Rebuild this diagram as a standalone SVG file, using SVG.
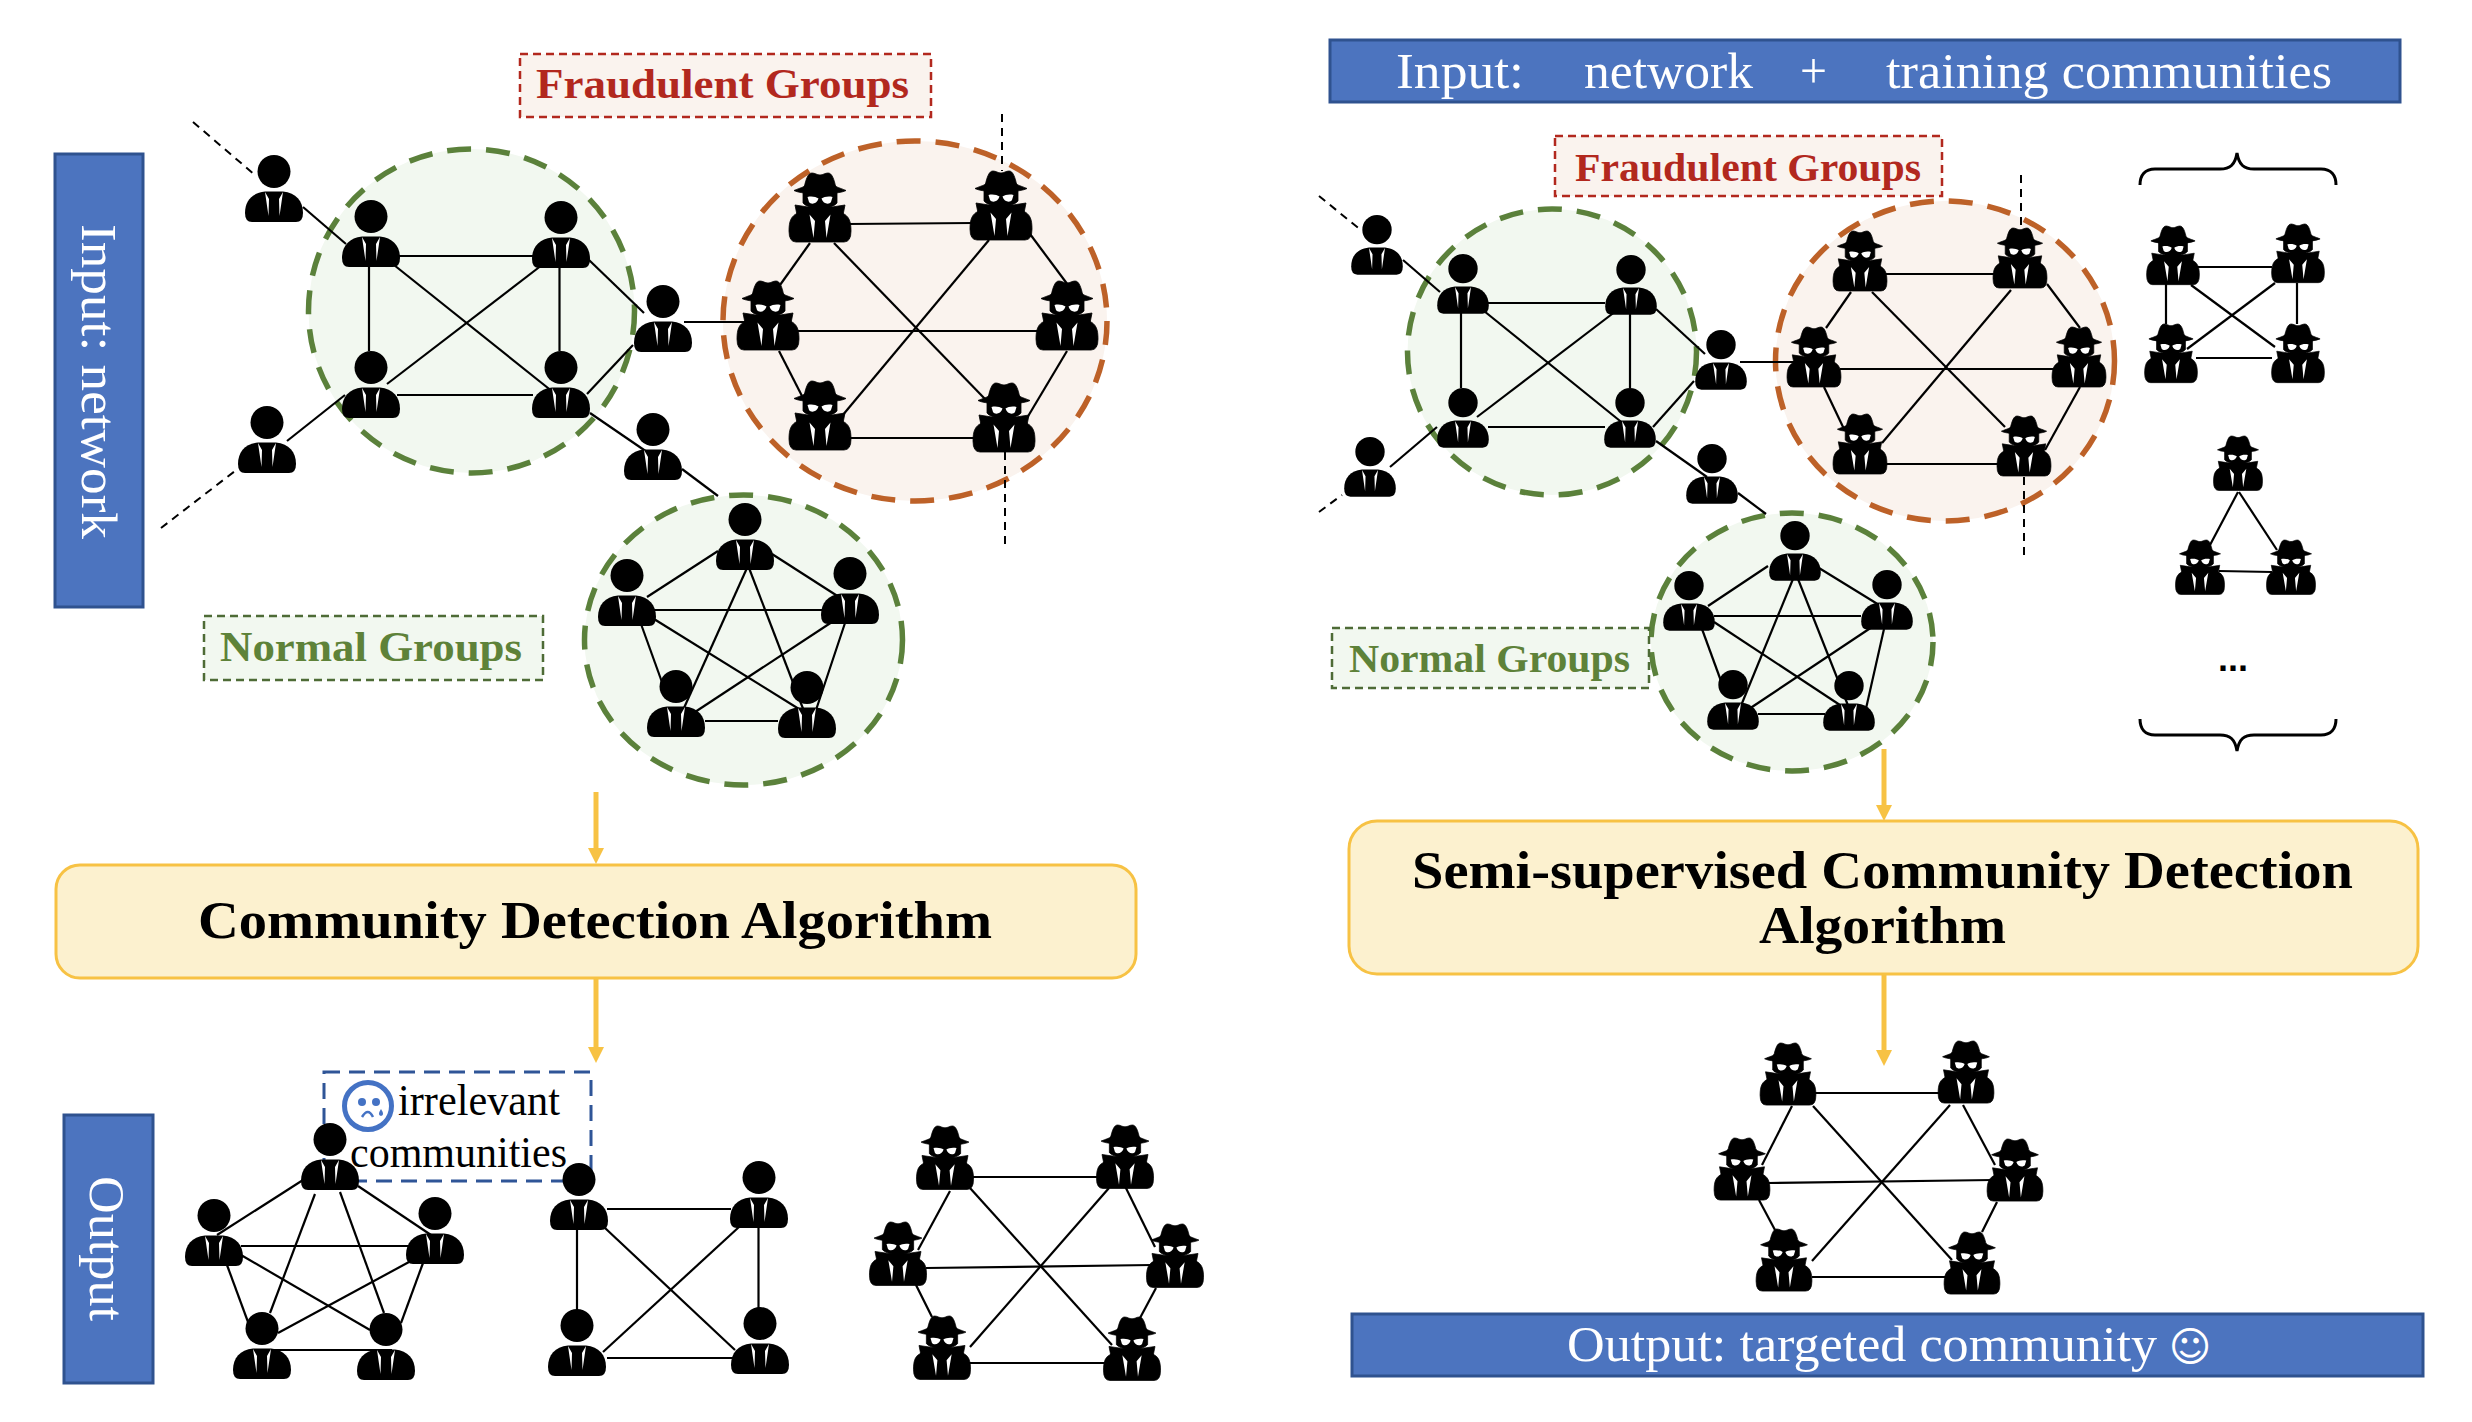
<svg xmlns="http://www.w3.org/2000/svg" xmlns:xlink="http://www.w3.org/1999/xlink" width="2472" height="1422" viewBox="0 0 2472 1422">
<style>
.bar{fill:#4c74bf;stroke:#2f528f;stroke-width:3}
.t{font-family:"Liberation Serif","Times New Roman",serif}
.w{fill:#fff;font-size:50px}
.b{font-weight:bold}
.g{fill:#5e8239}
.r{fill:#b2281e}
.ge{fill:#f2f8f0;stroke:#5b813b;stroke-width:5.5;stroke-dasharray:24 15}
.re{fill:#faf3ee;stroke:#bd6128;stroke-width:5.5;stroke-dasharray:24 15}
.gb{fill:#f2f8f0;stroke:#4e6b36;stroke-width:2.5;stroke-dasharray:8 5}
.rb{fill:#faf3ee;stroke:#b2281e;stroke-width:2.5;stroke-dasharray:8 5}
.algo{fill:#fcf1cf;stroke:#f7c244;stroke-width:3}
.e line{stroke:#000;stroke-width:2.2}
.d line{stroke:#000;stroke-width:2;stroke-dasharray:8 6}
.arrow{stroke:#f7c244;stroke-width:5;fill:none;marker-end:url(#ah)}
.brace{fill:none;stroke:#000;stroke-width:3}
.k{fill:#000;stroke:#000;stroke-width:.8}
</style>
<defs>
<marker id="ah" markerUnits="userSpaceOnUse" markerWidth="16" markerHeight="16" refX="0" refY="8" orient="auto" viewBox="0 0 16 16"><path d="M0 0L16 8L0 16Z" fill="#f7c244"/></marker>
<g id="person">
<circle cx="0" cy="16.5" r="16.5" fill="#000"/>
<path d="M-29 58C-29 46-22 38-9 36.5L9 36.5C22 38 29 46 29 58Q29 67 22 67L-22 67Q-29 67-29 58Z" fill="#000"/>
<path d="M-9 37L-5 44L-5.5 61ZM9 37L5 44L5.5 61Z" fill="#fff"/>
</g>
<g id="spy">
<path class="k" d="M-16 15C-14 6-12 0-8 0C-5 0-3 2 0 2C3 2 5 0 8 0C12 0 14 6 16 15Z"/>
<path class="k" d="M-26 17.5C-20 15-16 14-16 13L16 13C16 14 20 15 26 17.5C18 22-18 22-26 17.5Z"/>
<path class="k" d="M-17 19L17 19L17 30C12 37-12 37-17 30Z"/>
<path d="M-12.5 24C-8 23-4 24-1.5 25.5C-3 31-9 32-11 29ZM12.5 24C8 23 4 24 1.5 25.5C3 31 9 32 11 29Z" fill="#fff"/>
<path class="k" d="M-25 32L-12 34L12 34L25 32L23 42L-23 42Z"/>
<path class="k" d="M-22 40C-29 43-31 48-31 58Q-31 69-24 69L24 69Q31 69 31 58C31 48 29 43 22 40Z"/>
<path d="M-10.5 41.5L-5 48L-6.5 65ZM10.5 41.5L5 48L6.5 65Z" fill="#fff"/>
</g>
</defs>
<rect width="2472" height="1422" fill="#fff"/>

<g id="panels">
<rect class="bar" x="55" y="154" width="88" height="453"/>
<text class="t w" transform="translate(82,224) rotate(90)" textLength="315" lengthAdjust="spacingAndGlyphs">Input: network</text>
<rect class="bar" x="64" y="1115" width="89" height="268"/>
<text class="t w" transform="translate(90,1176) rotate(90)" textLength="145" lengthAdjust="spacingAndGlyphs">Output</text>
<rect class="bar" x="1330" y="40" width="1070" height="62"/>
<text class="t w" x="1396" y="88" textLength="128" lengthAdjust="spacingAndGlyphs">Input:</text>
<text class="t w" x="1584" y="88" textLength="169" lengthAdjust="spacingAndGlyphs">network</text>
<text class="t w" x="1800" y="88" textLength="27" lengthAdjust="spacingAndGlyphs">+</text>
<text class="t w" x="1886" y="88" textLength="446" lengthAdjust="spacingAndGlyphs">training communities</text>
<rect class="bar" x="1352" y="1314" width="1071" height="62"/>
<text class="t w" x="1567" y="1361" textLength="590" lengthAdjust="spacingAndGlyphs">Output: targeted community</text>
<text x="2190" y="1361" text-anchor="middle" fill="#fff" font-size="41" font-family="'DejaVu Sans',sans-serif">☺</text>
</g>

<g id="groups">
<ellipse class="ge" cx="471.5" cy="311" rx="163" ry="162"/>
<ellipse class="re" cx="915" cy="321" rx="192" ry="180"/>
<ellipse class="ge" cx="743.5" cy="640" rx="159" ry="145"/>
<ellipse class="ge" cx="1552" cy="352" rx="144.5" ry="143"/>
<ellipse class="re" cx="1945" cy="361" rx="169.5" ry="160"/>
<ellipse class="ge" cx="1792" cy="642" rx="141" ry="129"/>
</g>

<g id="labels">
<rect class="rb" x="520" y="54" width="411" height="63"/>
<text class="t b r" x="536" y="98" font-size="42" textLength="373" lengthAdjust="spacingAndGlyphs">Fraudulent Groups</text>
<rect class="gb" x="204" y="616" width="339" height="64"/>
<text class="t b g" x="220" y="661" font-size="42" textLength="302" lengthAdjust="spacingAndGlyphs">Normal Groups</text>
<rect class="rb" x="1555" y="136" width="387" height="60"/>
<text class="t b r" x="1575" y="181" font-size="40" textLength="346" lengthAdjust="spacingAndGlyphs">Fraudulent Groups</text>
<rect class="gb" x="1332" y="628" width="317" height="60"/>
<text class="t b g" x="1349" y="672" font-size="40" textLength="281" lengthAdjust="spacingAndGlyphs">Normal Groups</text>
<text x="2233" y="671" text-anchor="middle" font-family="'Liberation Sans',sans-serif" font-weight="bold" font-size="36" fill="#000">...</text>
<path class="brace" d="M2140 185C2140 175 2145 169 2155 169L2220 169C2230 169 2235 165 2237 153C2239 165 2244 169 2254 169L2321 169C2331 169 2336 175 2336 185"/>
<path class="brace" d="M2140 719C2140 729 2145 735 2155 735L2220 735C2230 735 2235 739 2237 751C2239 739 2244 735 2254 735L2321 735C2331 735 2336 729 2336 719"/>
<rect x="324" y="1072" width="267" height="109" fill="none" stroke="#2f5597" stroke-width="3" stroke-dasharray="16 9"/>
<g id="sad-face" transform="translate(368,1106)">
<circle r="23.5" fill="#fff" stroke="#4472c4" stroke-width="5"/>
<circle cx="-6" cy="-4" r="4" fill="#4472c4"/><circle cx="8" cy="-4" r="4" fill="#4472c4"/>
<path d="M-6 11Q0 1 5 11" fill="none" stroke="#4472c4" stroke-width="2.5"/>
<path d="M13 3Q17 9 13 10Q9 9 13 3Z" fill="#4472c4"/>
</g>
<text class="t" x="398" y="1115" font-size="45" textLength="162" lengthAdjust="spacingAndGlyphs">irrelevant</text>
<text class="t" x="350" y="1167" font-size="45" textLength="217" lengthAdjust="spacingAndGlyphs">communities</text>
</g>

<g id="algorithms">
<rect class="algo" x="56" y="865" width="1080" height="113" rx="24"/>
<text class="t b" x="198" y="938" font-size="52" textLength="794" lengthAdjust="spacingAndGlyphs">Community Detection Algorithm</text>
<rect class="algo" x="1349" y="821" width="1069" height="153" rx="28"/>
<text class="t b" x="1412" y="888" font-size="52" textLength="941" lengthAdjust="spacingAndGlyphs">Semi-supervised Community Detection</text>
<text class="t b" x="1759" y="943" font-size="52" textLength="247" lengthAdjust="spacingAndGlyphs">Algorithm</text>
</g>

<g id="connectors">
<g class="d">
<line x1="193" y1="122" x2="255" y2="175"/><line x1="161" y1="528" x2="235" y2="471"/>
<line x1="1002" y1="114" x2="1002" y2="171"/><line x1="1005" y1="452" x2="1005" y2="548"/>
<line x1="1319" y1="196" x2="1362" y2="231"/><line x1="1319" y1="512" x2="1342" y2="495"/>
<line x1="2021" y1="175" x2="2021" y2="229"/><line x1="2024" y1="477" x2="2024" y2="561"/>
</g>
<g class="e">
<line x1="303" y1="207" x2="346" y2="244"/><line x1="287" y1="441" x2="345" y2="395"/>
<line x1="399" y1="256" x2="533" y2="256"/><line x1="397" y1="395" x2="533" y2="395"/>
<line x1="369" y1="266" x2="369" y2="351"/><line x1="559.5" y1="266" x2="559.5" y2="351"/>
<line x1="394" y1="265" x2="558" y2="396"/><line x1="542" y1="265" x2="387" y2="384"/>
<line x1="589" y1="260" x2="644" y2="313"/><line x1="587" y1="394" x2="633" y2="345"/>
<line x1="684" y1="322" x2="746" y2="322"/><line x1="590" y1="413" x2="647" y2="452"/>
<line x1="682" y1="469" x2="718" y2="496"/>
<line x1="848" y1="224" x2="973" y2="223"/><line x1="797" y1="331" x2="1040" y2="331"/>
<line x1="848" y1="438" x2="976" y2="438"/><line x1="810" y1="243" x2="780" y2="285"/>
<line x1="779" y1="351" x2="802" y2="396"/><line x1="1030" y1="234" x2="1068" y2="285"/>
<line x1="1067" y1="351" x2="1027" y2="418"/><line x1="834" y1="243" x2="985" y2="399"/>
<line x1="989" y1="240" x2="842" y2="416"/>
<line x1="718" y1="551" x2="647" y2="597"/><line x1="772" y1="554" x2="839" y2="597"/>
<line x1="654" y1="610" x2="823" y2="610"/><line x1="747" y1="568" x2="679" y2="719"/>
<line x1="749" y1="568" x2="807" y2="719"/><line x1="641" y1="624" x2="663" y2="685"/>
<line x1="654" y1="619" x2="807" y2="714"/><line x1="832" y1="622" x2="692" y2="714"/>
<line x1="845" y1="623" x2="813" y2="719"/><line x1="705" y1="721" x2="778" y2="721"/>

<line x1="1403" y1="260" x2="1440" y2="292"/><line x1="1390" y1="467" x2="1437" y2="427"/>
<line x1="1488" y1="303" x2="1605" y2="303"/><line x1="1488" y1="427" x2="1605" y2="427"/>
<line x1="1461" y1="311" x2="1461" y2="388"/><line x1="1630" y1="311" x2="1630" y2="388"/>
<line x1="1484" y1="311" x2="1630" y2="429"/><line x1="1616" y1="311" x2="1477" y2="417"/>
<line x1="1656" y1="309" x2="1705" y2="354"/><line x1="1653" y1="427" x2="1694" y2="381"/>
<line x1="1740" y1="362" x2="1795" y2="362"/><line x1="1656" y1="441" x2="1707" y2="477"/>
<line x1="1738" y1="493" x2="1766" y2="514"/>
<line x1="1886" y1="274" x2="1994" y2="274"/><line x1="1840" y1="369" x2="2054" y2="369"/>
<line x1="1886" y1="464" x2="1998" y2="464"/><line x1="1851" y1="292" x2="1826" y2="328"/>
<line x1="1824" y1="387" x2="1844" y2="429"/><line x1="2047" y1="284" x2="2080" y2="328"/>
<line x1="2080" y1="387" x2="2045" y2="450"/><line x1="1872" y1="292" x2="2005" y2="427"/>
<line x1="2011" y1="290" x2="1882" y2="443"/>
<line x1="1768" y1="566" x2="1708" y2="606"/><line x1="1819" y1="568" x2="1884" y2="608"/>
<line x1="1714" y1="616" x2="1861" y2="616"/><line x1="1793" y1="579" x2="1738" y2="713"/>
<line x1="1798" y1="579" x2="1851" y2="713"/><line x1="1702" y1="629" x2="1721" y2="681"/>
<line x1="1714" y1="622" x2="1846" y2="709"/><line x1="1872" y1="627" x2="1749" y2="709"/>
<line x1="1884" y1="629" x2="1865" y2="713"/><line x1="1758" y1="714" x2="1825" y2="714"/>

<line x1="2198" y1="267" x2="2272" y2="267"/><line x1="2196" y1="358" x2="2272" y2="358"/>
<line x1="2166" y1="283" x2="2166" y2="324"/><line x1="2297" y1="283" x2="2297" y2="324"/>
<line x1="2191" y1="285" x2="2275" y2="347"/><line x1="2275" y1="283" x2="2187" y2="349"/>
<line x1="2238" y1="492" x2="2210" y2="545"/><line x1="2239" y1="492" x2="2277" y2="550"/>
<line x1="2219" y1="571" x2="2272" y2="572"/>

<line x1="303" y1="1180" x2="217" y2="1235"/><line x1="358" y1="1186" x2="431" y2="1235"/>
<line x1="241" y1="1246" x2="409" y2="1246"/><line x1="315" y1="1194" x2="270" y2="1313"/>
<line x1="340" y1="1192" x2="384" y2="1313"/><line x1="227" y1="1265" x2="248" y2="1322"/>
<line x1="241" y1="1255" x2="370" y2="1330"/><line x1="409" y1="1262" x2="278" y2="1333"/>
<line x1="423" y1="1263" x2="401" y2="1323"/><line x1="258" y1="1350" x2="392" y2="1350"/>
<line x1="607" y1="1209" x2="731" y2="1209"/><line x1="607" y1="1358" x2="733" y2="1358"/>
<line x1="577" y1="1228" x2="577" y2="1310"/><line x1="758.5" y1="1227" x2="758.5" y2="1308"/>
<line x1="605" y1="1228" x2="735" y2="1350"/><line x1="739" y1="1227" x2="603" y2="1352"/>

<line x1="973" y1="1177" x2="1098" y2="1177"/><line x1="926" y1="1268" x2="1152" y2="1265"/>
<line x1="968" y1="1363" x2="1105" y2="1363"/><line x1="950" y1="1191" x2="918" y2="1250"/>
<line x1="916" y1="1285" x2="932" y2="1317"/><line x1="1122" y1="1180" x2="1155" y2="1247"/>
<line x1="1156" y1="1288" x2="1140" y2="1318"/><line x1="970" y1="1188" x2="1112" y2="1345"/>
<line x1="1109" y1="1188" x2="970" y2="1347"/>

<line x1="1815" y1="1093" x2="1939" y2="1093"/><line x1="1768" y1="1183" x2="1993" y2="1180"/>
<line x1="1812" y1="1277" x2="1947" y2="1277"/><line x1="1792" y1="1106" x2="1762" y2="1165"/>
<line x1="1759" y1="1200" x2="1775" y2="1230"/><line x1="1963" y1="1105" x2="1995" y2="1165"/>
<line x1="1997" y1="1202" x2="1982" y2="1232"/><line x1="1813" y1="1106" x2="1952" y2="1260"/>
<line x1="1950" y1="1105" x2="1812" y2="1261"/>
</g>
<line class="arrow" x1="596" y1="792" x2="596" y2="848"/>
<line class="arrow" x1="596" y1="978" x2="596" y2="1047"/>
<line class="arrow" x1="1884" y1="749" x2="1884" y2="805"/>
<line class="arrow" x1="1884" y1="974" x2="1884" y2="1050"/>
</g>

<g id="nodes">
<g id="p1" transform="translate(274,155)"><use href="#person"/></g>
<g id="p2" transform="translate(371,200)"><use href="#person"/></g>
<g id="p3" transform="translate(561,201)"><use href="#person"/></g>
<g id="p4" transform="translate(371,351)"><use href="#person"/></g>
<g id="p5" transform="translate(561,351)"><use href="#person"/></g>
<g id="p6" transform="translate(663,285)"><use href="#person"/></g>
<g id="p7" transform="translate(267,406)"><use href="#person"/></g>
<g id="p8" transform="translate(653,413)"><use href="#person"/></g>
<g id="q1" transform="translate(745,503)"><use href="#person"/></g>
<g id="q2" transform="translate(627,559)"><use href="#person"/></g>
<g id="q3" transform="translate(850,557)"><use href="#person"/></g>
<g id="q4" transform="translate(676,670)"><use href="#person"/></g>
<g id="q5" transform="translate(807,671)"><use href="#person"/></g>
<g id="s1" transform="translate(820,173)"><use href="#spy"/></g>
<g id="s2" transform="translate(1001,171)"><use href="#spy"/></g>
<g id="s3" transform="translate(768,281)"><use href="#spy"/></g>
<g id="s4" transform="translate(1067,281)"><use href="#spy"/></g>
<g id="s5" transform="translate(820,381)"><use href="#spy"/></g>
<g id="s6" transform="translate(1004,383)"><use href="#spy"/></g>

<g id="a1" transform="translate(330,1123)"><use href="#person"/></g>
<g id="a2" transform="translate(214,1199)"><use href="#person"/></g>
<g id="a3" transform="translate(435,1197)"><use href="#person"/></g>
<g id="a4" transform="translate(262,1312)"><use href="#person"/></g>
<g id="a5" transform="translate(386,1313)"><use href="#person"/></g>
<g id="b1" transform="translate(579,1163)"><use href="#person"/></g>
<g id="b2" transform="translate(759,1161)"><use href="#person"/></g>
<g id="b3" transform="translate(577,1309)"><use href="#person"/></g>
<g id="b4" transform="translate(760,1307)"><use href="#person"/></g>
<g id="c1" transform="translate(945,1126) scale(.92)"><use href="#spy"/></g>
<g id="c2" transform="translate(1125,1125) scale(.92)"><use href="#spy"/></g>
<g id="c3" transform="translate(898,1222) scale(.92)"><use href="#spy"/></g>
<g id="c4" transform="translate(1175,1224) scale(.92)"><use href="#spy"/></g>
<g id="c5" transform="translate(942,1316) scale(.92)"><use href="#spy"/></g>
<g id="c6" transform="translate(1132,1317) scale(.92)"><use href="#spy"/></g>

<g id="r1" transform="translate(1377,215) scale(.89)"><use href="#person"/></g>
<g id="r2" transform="translate(1463,254) scale(.89)"><use href="#person"/></g>
<g id="r3" transform="translate(1631,255) scale(.89)"><use href="#person"/></g>
<g id="r4" transform="translate(1463,388) scale(.89)"><use href="#person"/></g>
<g id="r5" transform="translate(1630,388) scale(.89)"><use href="#person"/></g>
<g id="r6" transform="translate(1721,330) scale(.89)"><use href="#person"/></g>
<g id="r7" transform="translate(1370,437) scale(.89)"><use href="#person"/></g>
<g id="r8" transform="translate(1712,444) scale(.89)"><use href="#person"/></g>
<g id="t1" transform="translate(1795,521) scale(.89)"><use href="#person"/></g>
<g id="t2" transform="translate(1689,571) scale(.89)"><use href="#person"/></g>
<g id="t3" transform="translate(1887,570) scale(.89)"><use href="#person"/></g>
<g id="t4" transform="translate(1733,670) scale(.89)"><use href="#person"/></g>
<g id="t5" transform="translate(1849,671) scale(.89)"><use href="#person"/></g>
<g id="u1" transform="translate(1860,231) scale(.87)"><use href="#spy"/></g>
<g id="u2" transform="translate(2020,228) scale(.87)"><use href="#spy"/></g>
<g id="u3" transform="translate(1814,327) scale(.87)"><use href="#spy"/></g>
<g id="u4" transform="translate(2079,327) scale(.87)"><use href="#spy"/></g>
<g id="u5" transform="translate(1860,414) scale(.87)"><use href="#spy"/></g>
<g id="u6" transform="translate(2024,416) scale(.87)"><use href="#spy"/></g>
<g id="v1" transform="translate(2173,226) scale(.85)"><use href="#spy"/></g>
<g id="v2" transform="translate(2298,224) scale(.85)"><use href="#spy"/></g>
<g id="v3" transform="translate(2171,324) scale(.85)"><use href="#spy"/></g>
<g id="v4" transform="translate(2298,324) scale(.85)"><use href="#spy"/></g>
<g id="w1" transform="translate(2238,436) scale(.79)"><use href="#spy"/></g>
<g id="w2" transform="translate(2200,540) scale(.79)"><use href="#spy"/></g>
<g id="w3" transform="translate(2291,540) scale(.79)"><use href="#spy"/></g>
<g id="d1" transform="translate(1788,1043) scale(.9)"><use href="#spy"/></g>
<g id="d2" transform="translate(1966,1041) scale(.9)"><use href="#spy"/></g>
<g id="d3" transform="translate(1742,1138) scale(.9)"><use href="#spy"/></g>
<g id="d4" transform="translate(2015,1139) scale(.9)"><use href="#spy"/></g>
<g id="d5" transform="translate(1784,1229) scale(.9)"><use href="#spy"/></g>
<g id="d6" transform="translate(1972,1232) scale(.9)"><use href="#spy"/></g>
</g>
</svg>
